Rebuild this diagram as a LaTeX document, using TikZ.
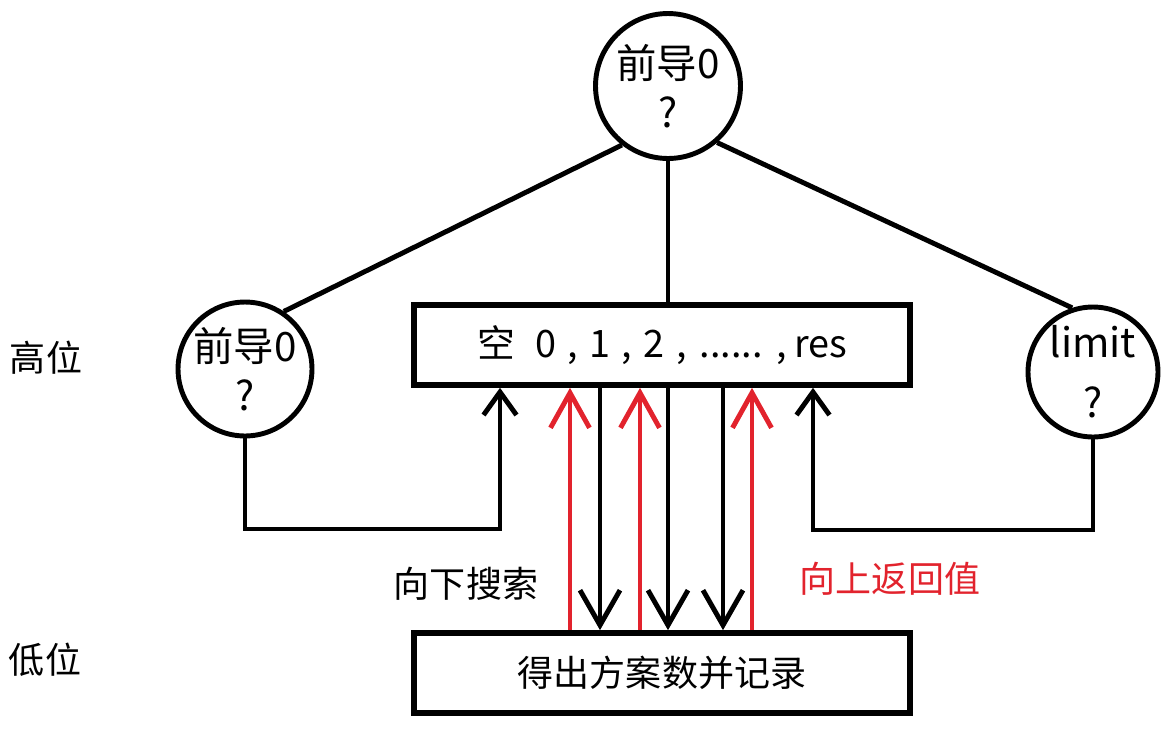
\documentclass[tikz,border=0pt]{standalone}
\usepackage{fontspec}
\setmainfont{Noto Sans CJK SC}
\usetikzlibrary{arrows.meta,positioning,calc}
\definecolor{retred}{RGB}{226,35,45}

\begin{document}
\begin{tikzpicture}[x=0.02cm,y=-0.02cm,line width=2.8pt,
	circ/.style={circle,draw,inner sep=0pt,align=center,font=\fontsize{23}{28}\selectfont},
	valbox/.style={draw,line width=3.2pt,minimum width=9.92cm,minimum height=1.6cm,inner sep=0pt,font=\fontsize{20.5}{24}\selectfont},
	lbl/.style={font=\fontsize{20.5}{24}\selectfont},
	upline/.style={draw=retred,-{Straight Barb[length=0.7cm,width=0.78cm]}},
	downline/.style={-{Straight Barb[length=0.7cm,width=0.8cm]}},
	sideline/.style={-{Straight Barb[length=0.46cm,width=0.66cm]}}]
	\useasboundingbox (0,0) rectangle (1171,728);
	\node[circ,minimum size=2.9cm] (root) at (668,86) {前导0\\?};
	\node[circ,minimum size=2.68cm] (lead) at (245,369) {前导0\\?};
	\node[circ,minimum size=2.6cm] (lim) at (1093,372) {limit\\[6pt]?};
	\node[valbox,font=\fontsize{21.5}{25}\selectfont] (vals) at (662,345) {空\hspace{0.55em}0\hspace{0.3em},\hspace{0.3em}1\hspace{0.3em},\hspace{0.3em}2\hspace{0.3em},\hspace{0.35em}......\hspace{0.35em},\hspace{0.2em}res};
	\node[valbox,below of=vals,node distance=6.56cm] (rec) {得出方案数并记录};
	\node[lbl] (high) at (46,358) {高位};
	\node[lbl] (low) at (45,660) {低位};
	\node[lbl] (down) at (466,584) {向下搜索};
	\node[lbl,text=retred] (up) at (890,579) {向上返回值};
	%
	\draw (root.232) -- (lead.56);
	\draw (root.south) -- (root.south |- vals.north);
	\draw (root.-49) -- (lim.108);
	%
	\coordinate (lturn) at (500,529);
	\coordinate (rturn) at (813,530);
	\draw[sideline] (lead.south) |- (lturn) -- (vals.south -| lturn);
	\draw[sideline] (lim.south) |- (rturn) -- (vals.south -| rturn);
	%
	\draw[upline] (rec.north -| 570,0) -- (vals.south -| 570,0);
	\draw[downline] (vals.south -| 600,0) -- (rec.north -| 600,0);
	\draw[upline] (rec.north -| 640,0) -- (vals.south -| 640,0);
	\draw[downline] (vals.south -| 668,0) -- (rec.north -| 668,0);
	\draw[downline] (vals.south -| 723,0) -- (rec.north -| 723,0);
	\draw[upline] (rec.north -| 752,0) -- (vals.south -| 752,0);
\end{tikzpicture}
\end{document}
